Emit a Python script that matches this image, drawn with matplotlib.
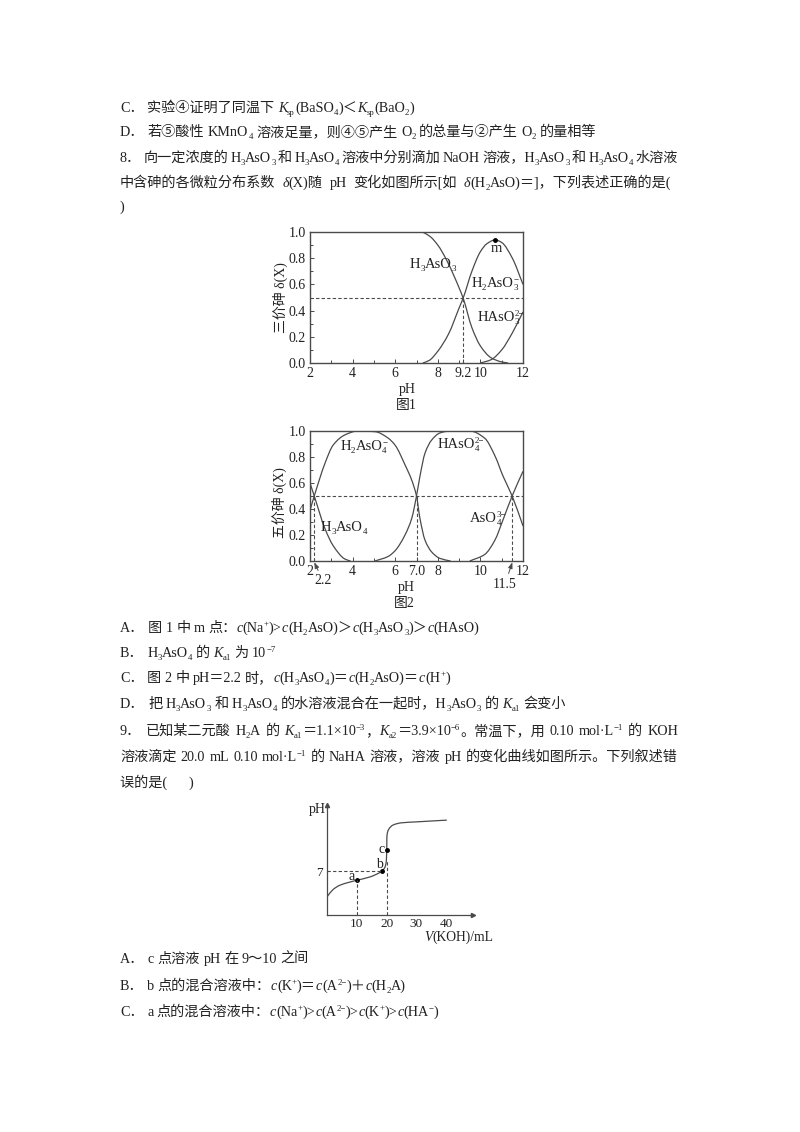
#!/usr/bin/env python3
# -*- coding: utf-8 -*-
"""Exam page with three charts, drawn with matplotlib."""
import re
import numpy as np
import matplotlib
matplotlib.use("Agg")
import matplotlib.pyplot as plt
from matplotlib.path import Path
from matplotlib.patches import PathPatch

plt.rcParams['font.family'] = ['Liberation Serif', 'Noto Sans CJK SC']

W, H = 800, 1132
INK = '#222222'
LINE = '#4a4a4a'

# -------------------- chart 1 data --------------------
ph_h3aso3 = [2, 7.2, 7.6, 8, 8.4, 8.8, 9.2, 9.6, 10, 10.5, 11, 11.3]
d_h3aso3 = [1, 1, .97, .90, .79, .65, .49, .27, .13, .04, .008, 0]
ph_h2aso3 = [7.3, 7.6, 8, 8.5, 9, 9.2, 9.6, 10, 10.3, 10.7, 11, 11.5, 12]
d_h2aso3 = [0, .02, .09, .22, .42, .50, .70, .85, .91, .94, .92, .80, .60]
ph_haso3 = [10, 10.5, 11, 11.5, 12]
d_haso3 = [0, .025, .10, .23, .39]
m_ph, m_d = 10.69, .94
ticks1 = [2, 4, 6, 8, 9.2, 10, 12]

# -------------------- chart 2 data --------------------
ph_h3aso4 = [2, 2.2, 2.7, 3.08, 3.64, 3.9]
d_h3aso4 = [.60, .50, .25, .12, .015, 0]
ph_h2aso4 = [2, 2.2, 2.7, 3.08, 3.64, 4.25, 5.05, 5.67, 6, 6.46, 6.78, 7, 7.16, 7.4, 7.71, 8.1, 8.6]
d_h2aso4 = [.39, .50, .75, .89, .97, 1, .995, .945, .89, .74, .62, .50, .33, .16, .07, .02, 0]
ph_haso4 = [5.05, 5.67, 6, 6.46, 6.78, 7, 7.16, 7.4, 7.71, 8.1, 8.57, 9.5, 10.2, 10.68, 11.07, 11.49, 12]
d_haso4 = [0, .035, .08, .20, .33, .50, .65, .83, .93, .985, 1, 1, .945, .81, .65, .50, .27]
ph_aso4 = [9.5, 10.2, 10.68, 11.07, 11.49, 12]
d_aso4 = [0, .05, .16, .32, .50, .69]
ticks2 = [2, 4, 6, 7, 8, 10, 12]
tick_labels2 = ['2', '4', '6', '7.0', '8', '10', '12']

# -------------------- chart 3 data --------------------
v_koh = [0, 2, 4.3, 7, 10, 14.4, 18.3, 19.4, 19.9, 20.0, 20.05, 20.1, 20.6, 22.2, 25, 30, 40.2]
ph_koh = [2.9, 4.06, 4.76, 5.18, 5.56, 6.09, 7.0, 7.6, 8.6, 9.6, 10.4, 12.5, 13.6, 14.4, 14.75, 14.9, 15.18]
pts_v = [10.1, 18.3, 20.0]
pts_ph = [5.56, 7.0, 10.37]

# -------------------- page text --------------------
# _{} subscript, ^{} superscript, *{} italic
page_lines = [
    (107, "C． 实验④证明了同温下 *{K}_{sp}(BaSO_{4})＜*{K}_{sp}(BaO_{2})", None),
    (131, "D． 若⑤酸性 KMnO_{4} 溶液足量，则④⑤产生 O_{2} 的总量与②产生 O_{2} 的量相等", None),
    (157, "8． 向一定浓度的 H_{3}AsO_{3} 和 H_{3}AsO_{4} 溶液中分别滴加 NaOH 溶液，H_{3}AsO_{3} 和 H_{3}AsO_{4} 水溶液", 678),
    (182, "中含砷的各微粒分布系数 *{δ}(X)随 pH 变化如图所示[如 *{δ}(H_{2}AsO)＝]，下列表述正确的是(", 671),
    (206, ")", None),
    (627, "A． 图 1 中 m 点：*{c}(Na^{+})>*{c}(H_{2}AsO)＞*{c}(H_{3}AsO_{3})＞*{c}(HAsO)", None),
    (652, "B． H_{3}AsO_{4} 的 *{K}_{a1} 为 10^{−7}", None),
    (677, "C． 图 2 中 pH＝2.2 时，*{c}(H_{3}AsO_{4})＝*{c}(H_{2}AsO)＝*{c}(H^{+})", None),
    (703, "D． 把 H_{3}AsO_{3} 和 H_{3}AsO_{4} 的水溶液混合在一起时，H_{3}AsO_{3} 的 *{K}_{a1} 会变小", None),
    (730, "9． 已知某二元酸 H_{2}A 的 *{K}_{a1}＝1.1×10^{−3}，*{K}_{a2}＝3.9×10^{−6}。常温下，用 0.10 mol·L^{−1} 的 KOH", 678),
    (756, "溶液滴定 20.0 mL 0.10 mol·L^{−1} 的 NaHA 溶液，溶液 pH 的变化曲线如图所示。下列叙述错", 678),
    (782, "误的是(　  )", None),
    (958, "A． c 点溶液 pH 在 9～10 之间", None),
    (985, "B． b 点的混合溶液中：*{c}(K^{+})＝*{c}(A^{2−})＋*{c}(H_{2}A)", None),
    (1011, "C． a 点的混合溶液中：*{c}(Na^{+})>*{c}(A^{2−})>*{c}(K^{+})>*{c}(HA^{−})", None),
]

fig = plt.figure(figsize=(W / 100, H / 100), dpi=100, facecolor='white')
renderer = fig.canvas.get_renderer()
TOKEN = re.compile(r'(\*\{[^}]*\}|_\{[^}]*\}|\^\{[^}]*\})')


def put_run(x, y, s, size, **kw):
    t = fig.text(x / W, 1 - y / H, s, fontsize=size, color=INK, va='baseline', ha='left', **kw)
    return t, t.get_window_extent(renderer).width


def rich_line(y_mid, markup, x0=120, x_end=None, size=10.2, center=False):
    """Writes one line run by run; x_end stretches the spaces, center makes x0 the middle."""
    base = y_mid + size * 0.48
    parts = []
    for tok in TOKEN.split(markup):
        if not tok:
            continue
        kind = tok[0] if tok[0] in '*_^' and tok[1:2] == '{' else ''
        if kind:
            parts.append((kind, tok[2:-1], 0, 0))
            continue
        for word in re.findall(r' *[^ ]+ *', tok):
            lead = len(word) - len(word.lstrip(' '))
            trail = len(word) - len(word.rstrip(' '))
            parts.append(('', word.strip(' '), lead, trail))

    x = x0
    placed = []
    gaps = 0
    prev_kind, prev_x = '', x0
    for kind, body, lead, trail in parts:
        x += lead * 3.5
        gaps += 1 if lead else 0
        sz, yy, kw = size, base, {}
        if kind == '*':
            kw = {'style': 'italic'}
        elif kind == '_':
            sz, yy = size * 0.62, base + size * 0.3
        elif kind == '^':
            sz, yy = size * 0.62, base - size * 0.5
        # a superscript right after a subscript sits above it
        if kind == '^' and prev_kind == '_':
            x = prev_x
        t, w = put_run(x, yy, body, sz, **kw)
        placed.append((t, x, gaps))
        prev_kind, prev_x = kind, x
        x += w + trail * 3.5
        gaps += 1 if trail else 0

    shift = -(x - x0) / 2 if center else 0
    extra = (x_end - x) / gaps if x_end is not None and gaps else 0
    for t, px, g in placed:
        t.set_x((px + shift + extra * g) / W)


def smooth_curve(ax, xs, ys):
    """Draws a smooth line through the read points (shape-keeping cubic segments)."""
    x = np.asarray(xs, float)
    y = np.asarray(ys, float)
    dx = np.diff(x)
    s = np.diff(y) / dx
    m = np.zeros_like(x)
    m[0], m[-1] = s[0], s[-1]
    for i in range(1, len(x) - 1):
        if s[i - 1] * s[i] > 0:
            w1, w2 = 2 * dx[i] + dx[i - 1], dx[i] + 2 * dx[i - 1]
            m[i] = (w1 + w2) / (w1 / s[i - 1] + w2 / s[i])
    verts = [(x[0], y[0])]
    codes = [Path.MOVETO]
    for i in range(len(dx)):
        verts += [(x[i] + dx[i] / 3, y[i] + m[i] * dx[i] / 3),
                  (x[i + 1] - dx[i] / 3, y[i + 1] - m[i + 1] * dx[i] / 3),
                  (x[i + 1], y[i + 1])]
        codes += [Path.CURVE4] * 3
    ax.add_patch(PathPatch(Path(verts, codes), fill=False, edgecolor=LINE, lw=.9))


def px_axes(left, top, right, bottom):
    return fig.add_axes([left / W, 1 - bottom / H, (right - left) / W, (bottom - top) / H])


def page_label(x, y, s, size=10, rotation=0):
    fig.text(x / W, 1 - y / H, s, fontsize=size, color=INK, ha='center', va='center', rotation=rotation)


def style_delta_axes(ax, ticks, labels):
    ax.set_xlim(2, 12)
    ax.set_ylim(0, 1)
    for sp in ax.spines.values():
        sp.set_color(LINE)
        sp.set_linewidth(1.0)
    ax.set_xticks(ticks, labels)
    ax.set_xticks(range(3, 12, 2), minor=True)
    ax.set_yticks([0, .2, .4, .6, .8, 1], ['0.0', '0.2', '0.4', '0.6', '0.8', '1.0'])
    ax.set_yticks([.1, .3, .5, .7, .9], minor=True)
    ax.tick_params(which='major', direction='in', length=3, width=.7, color=LINE,
                   labelsize=10, labelcolor=INK, pad=3)
    ax.tick_params(which='minor', direction='in', length=2, width=.7, color=LINE)
    ax.axhline(.5, color=LINE, lw=.8, ls=(0, (3, 2)))


# -------------------- page text --------------------
for y_mid, markup, x_end in page_lines:
    rich_line(y_mid, markup, x_end=x_end)

# -------------------- chart 1 --------------------
ax1 = px_axes(310, 232, 523, 363)
style_delta_axes(ax1, ticks1, [str(v) for v in ticks1])
smooth_curve(ax1, ph_h3aso3, d_h3aso3)
smooth_curve(ax1, ph_h2aso3, d_h2aso3)
smooth_curve(ax1, ph_haso3, d_haso3)
ax1.plot([9.2, 9.2], [0, .5], color=LINE, lw=.8, ls=(0, (3, 2)))
ax1.plot([m_ph], [m_d], 'o', color='black', ms=2.5)
rich_line(247, 'm', x0=496, size=10.5, center=True)
rich_line(263, 'H_{3}AsO_{3}', x0=433, size=10.5, center=True)
rich_line(282, 'H_{2}AsO_{3}^{−}', x0=495, size=10.5, center=True)
rich_line(316, 'HAsO_{3}^{2−}', x0=501, size=10.5, center=True)
page_label(280, 298, '三价砷 δ(X)', rotation=90)
page_label(407, 389, 'pH')
page_label(406, 405, '图1')

# -------------------- chart 2 --------------------
ax2 = px_axes(310, 431, 523, 561)
style_delta_axes(ax2, ticks2, tick_labels2)
smooth_curve(ax2, ph_h3aso4, d_h3aso4)
smooth_curve(ax2, ph_h2aso4, d_h2aso4)
smooth_curve(ax2, ph_haso4, d_haso4)
smooth_curve(ax2, ph_aso4, d_aso4)
for v in [2.2, 7.0, 11.5]:
    ax2.plot([v, v], [0, .5], color=LINE, lw=.8, ls=(0, (3, 2)))
rich_line(445, 'H_{2}AsO_{4}^{−}', x0=364, size=10.5, center=True)
rich_line(443, 'HAsO_{4}^{2−}', x0=461, size=10.5, center=True)
rich_line(526, 'H_{3}AsO_{4}', x0=344, size=10.5, center=True)
rich_line(517, 'AsO_{4}^{3−}', x0=488, size=10.5, center=True)
arrow = dict(arrowstyle='-|>,head_length=.35,head_width=.13', color=LINE, lw=.7, shrinkA=1, shrinkB=0)
ax2.annotate('2.2', xy=(2.2, -.01), xytext=(323 / W, 1 - 581 / H), textcoords='figure fraction',
             annotation_clip=False, fontsize=10, color=INK, ha='center', va='center', arrowprops=arrow)
ax2.annotate('11.5', xy=(11.5, -.01), xytext=(505 / W, 1 - 584 / H), textcoords='figure fraction',
             annotation_clip=False, fontsize=10, color=INK, ha='center', va='center', arrowprops=arrow)
page_label(279, 503, '五价砷 δ(X)', rotation=90)
page_label(406, 587, 'pH')
page_label(404, 603, '图2')

# -------------------- chart 3 --------------------
ax3 = px_axes(327, 805, 473, 915)
ax3.set_xlim(0, 49)
ax3.set_ylim(0, 17.6)
ax3.patch.set_alpha(0)
ax3.spines['top'].set_visible(False)
ax3.spines['right'].set_visible(False)
for name in ['left', 'bottom']:
    ax3.spines[name].set_color(LINE)
    ax3.spines[name].set_linewidth(.9)
ax3.plot(1, 0, '>', color=LINE, ms=3, transform=ax3.transAxes, clip_on=False)
ax3.plot(0, 1, '^', color=LINE, ms=3, transform=ax3.transAxes, clip_on=False)
ax3.set_xticks([10, 20, 30, 40])
ax3.set_yticks([7])
ax3.tick_params(length=0, labelsize=9.5, labelcolor=INK, pad=2)
ax3.tick_params(axis='y', pad=3)
smooth_curve(ax3, v_koh, ph_koh)
ax3.plot(pts_v, pts_ph, 'o', color='black', ms=2.5)
ax3.plot([0, pts_v[1]], [7, 7], color=LINE, lw=.8, ls=(0, (3, 2)))
ax3.plot([pts_v[0], pts_v[0]], [0, pts_ph[0]], color=LINE, lw=.8, ls=(0, (3, 2)))
ax3.plot([20, 20], [0, 8.8], color=LINE, lw=.8, ls=(0, (3, 2)))
ax3.text(8.3, 6.2, 'a', fontsize=10, color=INK, ha='center', va='center')
ax3.text(17.5, 8.0, 'b', fontsize=10, color=INK, ha='center', va='center')
ax3.text(18.3, 10.5, 'c', fontsize=10, color=INK, ha='center', va='center')
page_label(317, 809, 'pH')
rich_line(936, '*{V}(KOH)/mL', x0=424, size=9.8)

fig.savefig('out.png', dpi=100, facecolor='white')
